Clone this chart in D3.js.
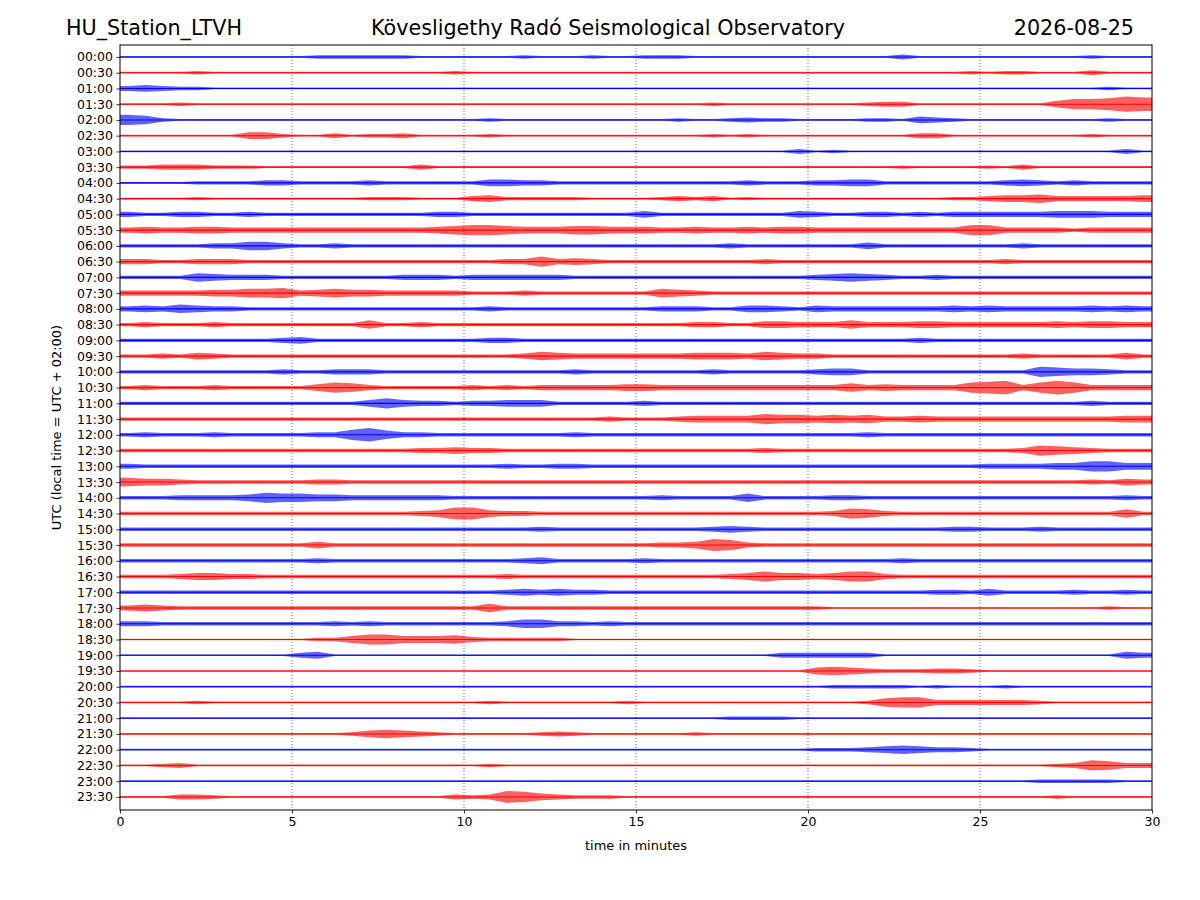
<!DOCTYPE html>
<html>
<head>
<meta charset="utf-8">
<script src="https://cdn.jsdelivr.net/npm/d3@7"></script>
<style>
  html, body { margin: 0; padding: 0; background: #fff; }
  svg { display: block; font-family: "DejaVu Sans", sans-serif; }
</style>
</head>
<body>
<svg id="chart" width="1200" height="900"></svg>
<script>
// ---------------- DATA ----------------
const stationName = "HU_Station_LTVH";
const observatoryName = "Kövesligethy Radó Seismological Observatory";
const dateLabel = "2026-08-25";
const xLabel = "time in minutes";
const yLabel = "UTC (local time = UTC + 02:00)";

const timeTicks = [0, 5, 10, 15, 20, 25, 30];
const rowLabels = [
  "00:00","00:30","01:00","01:30","02:00","02:30","03:00","03:30",
  "04:00","04:30","05:00","05:30","06:00","06:30","07:00","07:30",
  "08:00","08:30","09:00","09:30","10:00","10:30","11:00","11:30",
  "12:00","12:30","13:00","13:30","14:00","14:30","15:00","15:30",
  "16:00","16:30","17:00","17:30","18:00","18:30","19:00","19:30",
  "20:00","20:30","21:00","21:30","22:00","22:30","23:00","23:30"
];
const traceColors = ["#0000ff", "#ff0000"];

// Envelope (half-amplitude level 0-9) of each 30-minute trace,
// one value per half minute.
const traceEnvelopes = [
  "1111111111 1222222111 1112111211 2221111111 1111131111 1111112111",
  "1111211111 1111111112 1111111111 1111111111 1111111112 1221113111",
  "3432211111 1111111111 1111111111 1111111111 1111111111 1111111211",
  "1112111111 1111111111 1111111111 1111211111 1112331111 1111466798",
  "6521111111 1111111111 1211111111 1121123221 1112214321 1111111211",
  "1111111442 1131223111 1211111111 1111212111 1111113311 1111112111",
  "1111111111 1111111111 1111111111 1111111113 1211111111 1111111131",
  "2233322211 1111111311 1111111111 1111111111 1111121111 2131111111",
  "1111222233 2222322222 2443322222 2222223222 3344222222 2343232222",
  "1111211111 1111222111 3422222111 1232312111 1111111122 3445333334",
  "3223322322 2222222233 2222222222 4222222224 3223323233 3333444333",
  "3433443333 3333333345 6654445544 4334334344 3333333336 6333323333",
  "2222233553 2232222222 2222222222 2222232222 2224222222 2232222222",
  "3322333222 2222222222 2233634322 2222222322 2222222222 2322222222",
  "2222543332 2222223332 3333332222 2222222222 3454322322 2222222222",
  "3333344556 3454433333 2223222222 2543222222 2222222222 2222222222",
  "3435433222 2222222222 2322222222 2333224432 4333333343 4333334343",
  "2322232222 2222522322 2222222222 2223322443 3353334433 3333434433",
  "2222222223 4222222222 2332222222 2222222222 2222223222 2222222222",
  "2232432222 2222222222 2223543333 3334443543 3222222222 2232222242",
  "2222222223 2233322222 2222223222 2222322222 3442222222 2226544322",
  "2322232222 2465322222 3232333334 4333333333 3353433336 7836863333",
  "2222222222 2222464332 3344422222 3222222222 2222222222 2222223222",
  "2222222222 2222222222 2222222232 2234444655 4545334333 3333333344",
  "2322232222 2336853322 2222223222 2222222222 2223222222 2222222222",
  "2222222222 2222222334 3322222222 2222222322 2222222222 2236543222",
  "3222222222 2222222222 2232233222 2222222222 2222222222 3333446644",
  "5443222222 2332222222 2222222222 2222222222 2222222222 2222223243",
  "2223333465 5443333332 2222222222 2322225222 2332222222 2222222232",
  "2222222222 2222222347 7433222222 2222222222 2365322222 2222222252",
  "2222222222 2222222222 2222322222 2222343222 2222222233 2223222222",
  "2222222222 2422222222 2222222222 2334763222 2222222222 2222222222",
  "2222222222 2322222222 2223422222 3222222222 2222232222 2222222222",
  "2223443322 2222222222 2232222222 2222234644 3466322222 2222222222",
  "2222222222 2222222222 2234343322 2222222222 2222222332 4222232232",
  "3432222222 2222222222 2522222222 2222222222 2111111111 1111111211",
  "3322222222 2232322222 2235533232 2222222222 2222222222 2222222222",
  "1111111111 1224664445 3222221111 1111111111 1111111111 1111111111",
  "1111111111 3411111111 1111111111 1111111133 3333111111 1111111143",
  "1111111111 1111111111 1111111111 1111111111 4543222332 1111111111",
  "1111111111 1111111111 1111111111 1111111111 1222221211 1211111111",
  "1111211111 1111111111 1211111112 1111111111 1112566333 3332111111",
  "1111111111 1111111111 1111111111 1111122221 1111111111 1111111111",
  "1111111111 1112454321 1111232111 1112111111 1111111111 1111111111",
  "1111111111 1111111111 1111111111 1111111111 2223454332 1111111111",
  "1123111111 1111111111 1211111111 1111111111 1111111111 1111236533",
  "1111111111 1111111111 1111111111 1111111111 1111111111 1112222211",
  "1113321111 1111111113 2376432221 1111111111 1111111111 1111211111"
];
const binMinutes = 0.5;     // width of one envelope value, minutes
const levelToRows = 0.054;  // one envelope level in units of row spacing

// ---------------- LAYOUT ----------------
const svg = d3.select("#chart");
const plot = { left: 120, right: 1152, top: 45, bottom: 810 };

const x = d3.scaleLinear().domain([0, 30]).range([plot.left, plot.right]);
const y = d3.scaleLinear().domain([-0.76, 47.83]).range([plot.top, plot.bottom]);

// clip
svg.append("defs").append("clipPath").attr("id", "clip")
  .append("rect")
  .attr("x", plot.left).attr("y", plot.top)
  .attr("width", plot.right - plot.left).attr("height", plot.bottom - plot.top);

// vertical dotted grid
svg.append("g").selectAll("line")
  .data(timeTicks.filter(t => t > 0 && t < 30))
  .join("line")
  .attr("x1", d => x(d)).attr("x2", d => x(d))
  .attr("y1", plot.top).attr("y2", plot.bottom)
  .attr("stroke", "#444").attr("stroke-width", 0.8)
  .attr("stroke-dasharray", "1,2");

// traces
const traces = svg.append("g").attr("clip-path", "url(#clip)");
traceEnvelopes.forEach((str, i) => {
  const levels = str.replace(/\s+/g, "").split("").map(Number);
  const pts = levels.map((v, j) => ({ t: (j + 0.5) * binMinutes, a: v * levelToRows }));
  pts.unshift({ t: 0, a: levels[0] * levelToRows });
  pts.push({ t: levels.length * binMinutes, a: levels[levels.length - 1] * levelToRows });
  const color = traceColors[i % 2];
  const area = d3.area()
    .x(d => x(d.t))
    .y0(d => y(i + d.a))
    .y1(d => y(i - d.a))
    .curve(d3.curveLinear);
  traces.append("path")
    .datum(pts)
    .attr("d", area)
    .attr("fill", color)
    .attr("fill-opacity", 0.62);
  traces.append("line")
    .attr("x1", x(0)).attr("x2", x(30))
    .attr("y1", y(i)).attr("y2", y(i))
    .attr("stroke", color).attr("stroke-width", 1.1);
});

// axes
const xAxis = d3.axisBottom(x).tickValues(timeTicks).tickFormat(d3.format("d"))
  .tickSize(3.5).tickPadding(3.5);
const gx = svg.append("g").attr("transform", `translate(0,${plot.bottom})`).call(xAxis);
gx.select(".domain").remove();

const yAxis = d3.axisLeft(y).tickValues(d3.range(rowLabels.length))
  .tickFormat(i => rowLabels[i]).tickSize(3.5).tickPadding(3.5);
const gy = svg.append("g").attr("transform", `translate(${plot.left},0)`).call(yAxis);
gy.select(".domain").remove();

svg.selectAll(".tick text")
  .attr("font-family", "DejaVu Sans, sans-serif")
  .attr("font-size", "12.5px").attr("fill", "#000");
svg.selectAll(".tick line").attr("stroke", "#000").attr("stroke-width", 0.8);

// frame
svg.append("rect")
  .attr("x", plot.left).attr("y", plot.top)
  .attr("width", plot.right - plot.left).attr("height", plot.bottom - plot.top)
  .attr("fill", "none").attr("stroke", "#000").attr("stroke-width", 1);

// labels
svg.append("text")
  .attr("x", (plot.left + plot.right) / 2).attr("y", 850)
  .attr("text-anchor", "middle").attr("font-size", "13px")
  .text(xLabel);

svg.append("text")
  .attr("transform", `translate(61,${(plot.top + plot.bottom) / 2}) rotate(-90)`)
  .attr("text-anchor", "middle").attr("font-size", "13px")
  .text(yLabel);

// titles
svg.append("text").attr("x", 66).attr("y", 35)
  .attr("font-size", "20.7px").text(stationName);
svg.append("text").attr("x", 608).attr("y", 35)
  .attr("text-anchor", "middle").attr("font-size", "20.7px").text(observatoryName);
svg.append("text").attr("x", 1134).attr("y", 35)
  .attr("text-anchor", "end").attr("font-size", "20.7px").text(dateLabel);
</script>
</body>
</html>
